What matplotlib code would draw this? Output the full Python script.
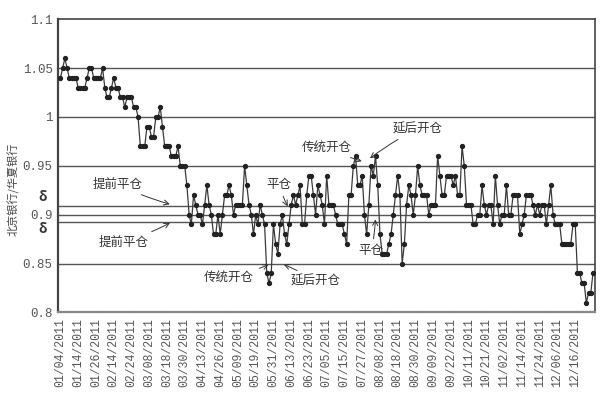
import matplotlib.pyplot as plt

plt.rcParams['font.family'] = ['Noto Sans CJK SC', 'DejaVu Sans']

# ratio series (one value per trading day)
seg_a = [1.04, 1.05, 1.06, 1.05, 1.04, 1.04, 1.04, 1.04,
         1.03, 1.03, 1.03, 1.03, 1.04, 1.05, 1.05, 1.04, 1.04, 1.04, 1.04, 1.05,
         1.03, 1.02, 1.02, 1.03, 1.04, 1.03, 1.03, 1.02, 1.02, 1.01, 1.02, 1.02,
         1.02, 1.01, 1.01, 1.00, 0.97, 0.97, 0.97, 0.99, 0.99, 0.98, 0.98, 1.00,
         1.00, 1.01, 0.99, 0.97, 0.97, 0.97, 0.96, 0.96, 0.96, 0.97, 0.95, 0.95,
         0.95, 0.93, 0.90, 0.89]
seg_b = [0.92, 0.91, 0.90, 0.90, 0.89, 0.91, 0.93, 0.91, 0.90, 0.88, 0.88, 0.90,
         0.88, 0.90, 0.92, 0.92, 0.93, 0.92, 0.90, 0.91, 0.91, 0.91, 0.91, 0.95,
         0.93, 0.91, 0.90, 0.88, 0.90, 0.89, 0.91, 0.90, 0.89, 0.84, 0.83, 0.84,
         0.89, 0.87, 0.86, 0.89, 0.90, 0.88, 0.87, 0.89, 0.91, 0.92, 0.91, 0.92,
         0.93, 0.89, 0.89, 0.92]
seg_c = [0.94, 0.94, 0.92, 0.90, 0.93, 0.92, 0.91, 0.89, 0.94, 0.91, 0.91, 0.91,
         0.90, 0.89, 0.89, 0.89, 0.88, 0.87, 0.92, 0.92, 0.95, 0.96, 0.93, 0.93,
         0.94, 0.90, 0.88, 0.91, 0.95, 0.94]
seg_d = [0.96, 0.93, 0.88, 0.86, 0.86, 0.86, 0.87, 0.88, 0.90, 0.92, 0.94,
         0.92, 0.85, 0.87, 0.91, 0.93, 0.92, 0.90, 0.92, 0.95, 0.93, 0.92, 0.92,
         0.92, 0.90, 0.91, 0.91, 0.91, 0.96, 0.94, 0.92, 0.92, 0.94, 0.94, 0.94,
         0.93, 0.94, 0.92, 0.92, 0.97, 0.95, 0.91, 0.91, 0.91, 0.89, 0.89, 0.90,
         0.90, 0.93, 0.91, 0.90, 0.91, 0.91, 0.89, 0.94, 0.91, 0.89, 0.90, 0.90,
         0.93, 0.90, 0.90, 0.92, 0.92, 0.92, 0.88, 0.89, 0.90, 0.92, 0.92, 0.92,
         0.91, 0.90, 0.91, 0.90, 0.91, 0.91, 0.89, 0.91, 0.93, 0.90, 0.89, 0.89,
         0.89, 0.87, 0.87, 0.87, 0.87, 0.87, 0.89, 0.89, 0.84, 0.84, 0.83, 0.83,
         0.81, 0.82, 0.82, 0.84]
ratio = seg_a + seg_b + seg_c + seg_d

dates = ['01/04/2011', '01/14/2011', '01/26/2011', '02/14/2011', '02/24/2011',
         '03/08/2011', '03/18/2011', '03/30/2011', '04/13/2011', '04/26/2011',
         '05/09/2011', '05/19/2011', '05/31/2011', '06/13/2011', '06/23/2011',
         '07/05/2011', '07/15/2011', '07/27/2011', '08/08/2011', '08/18/2011',
         '08/30/2011', '09/09/2011', '09/22/2011', '10/11/2011', '10/21/2011',
         '11/02/2011', '11/14/2011', '11/24/2011', '12/06/2011', '12/16/2011']
date_step = 8

grid_levels = [0.85, 0.95, 1.0, 1.05]
mean_level = 0.9
band_levels = [0.909, 0.893]

fig = plt.figure(figsize=(6, 4.11), dpi=100)
ax = fig.add_axes([0.097, 0.24, 0.895, 0.713])

for g in grid_levels:
    ax.axhline(g, color='#555555', lw=1.0, zorder=1)
ax.axhline(mean_level, color='#555555', lw=1.0, zorder=1)
for b in band_levels:
    ax.axhline(b, color='#555555', lw=1.0, zorder=1)

x = list(range(len(ratio)))
ax.plot(x, ratio, color='#3a3a3a', lw=0.9, marker='o', ms=2.8,
        mfc='#222222', mec='#222222', zorder=3)

ax.set_ylim(0.8, 1.1)
ax.set_xlim(-1, len(ratio))
ax.set_yticks([0.8, 0.85, 0.9, 0.95, 1.0, 1.05, 1.1])
ax.set_yticklabels(['0.8', '0.85', '0.9', '0.95', '1', '1.05', '1.1'],
                   family='Liberation Mono', fontsize=9, color='#555555')
ax.set_xticks(range(0, date_step * len(dates), date_step))
ax.set_xticklabels(dates, rotation=90, family='Liberation Mono',
                   fontsize=8.3, color='#555555')
ax.tick_params(length=0, pad=4)

for s in ['left', 'right', 'top']:
    ax.spines[s].set_color('#444444')
    ax.spines[s].set_linewidth(1.2)
ax.spines['left'].set_linewidth(1.6)
ax.spines['bottom'].set_color('#888888')
ax.spines['bottom'].set_linewidth(1.6)
ax.spines['bottom'].set_linestyle((0, (1, 0.6)))

ax.set_ylabel('北京银行/华夏银行', fontsize=8, color='#444444')
ax.yaxis.set_label_coords(-0.072, 0.42)

# the band markers left of the axis
for lvl in [0.918, 0.885]:
    ax.text(-0.022, (lvl - 0.8) / 0.3, 'δ', transform=ax.transAxes,
            ha='right', va='center', fontsize=10, fontweight='bold',
            color='#333333')

arrow = dict(arrowstyle='->', color='#333333', lw=0.7,
             connectionstyle='arc3,rad=0.05')
notes = [
    ('提前平仓', (26, 0.931), (50.5, 0.910)),
    ('提前平仓', (28.5, 0.872), (50.5, 0.893)),
    ('平仓', (98.5, 0.931), (103, 0.906)),
    ('传统开仓', (76, 0.836), (95, 0.850)),
    ('延后开仓', (115, 0.832), (99.5, 0.850)),
    ('传统开仓', (120, 0.969), (137, 0.954)),
    ('延后开仓', (161, 0.988), (138.5, 0.956)),
    ('平仓', (140, 0.863), (142, 0.898)),
]
for label, txt, tip in notes:
    ax.annotate(label, xy=tip, xytext=txt, ha='center', va='center',
                fontsize=9, color='#333333', arrowprops=arrow, zorder=4)

fig.savefig('out.png', dpi=100)
